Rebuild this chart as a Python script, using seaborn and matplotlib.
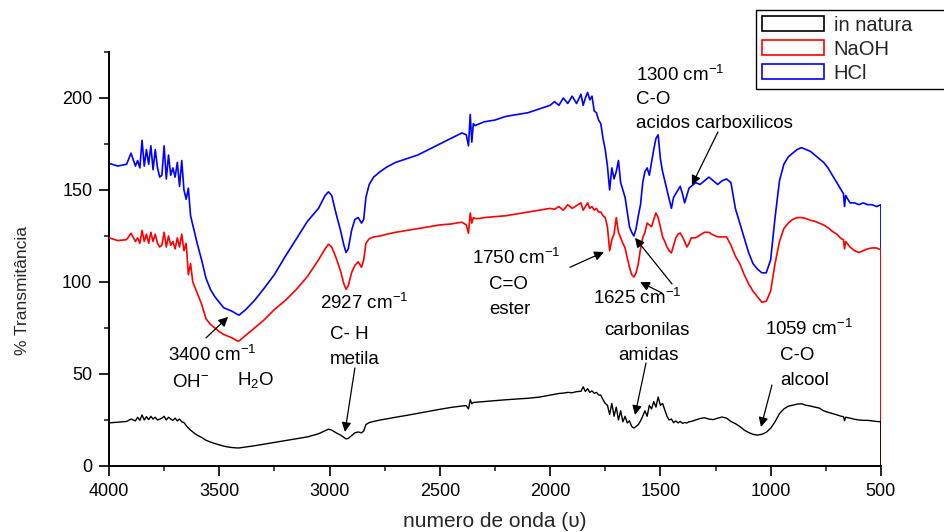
import numpy as np
import matplotlib
matplotlib.use("Agg")
from matplotlib import pyplot as plt
from matplotlib.patches import Patch
from matplotlib.ticker import MultipleLocator
import seaborn as sns

# wavenumber grid (cm-1) shared by the three spectra
wavenumber = [
    4000, 3960, 3920, 3900, 3880, 3870, 3860, 3850, 3840, 3830,
    3820, 3810, 3800, 3790, 3780, 3770, 3760, 3750, 3740, 3730,
    3720, 3710, 3700, 3690, 3680, 3670, 3660, 3650, 3640, 3630,
    3620, 3610, 3600, 3580, 3560, 3540, 3520, 3500, 3480, 3460,
    3440, 3420, 3410, 3380, 3340, 3300, 3250, 3200, 3150, 3100,
    3050, 3020, 3005, 2990, 2970, 2950, 2935, 2925, 2915, 2900,
    2885, 2870, 2855, 2845, 2835, 2820, 2800, 2770, 2740, 2700,
    2650, 2600, 2550, 2500, 2450, 2400, 2380, 2370, 2362, 2355,
    2348, 2340, 2320, 2300, 2250, 2200, 2150, 2100, 2050, 2000,
    1980, 1960, 1940, 1920, 1900, 1880, 1860, 1850, 1840, 1830,
    1820, 1810, 1800, 1790, 1780, 1770, 1760, 1750, 1740, 1730,
    1720, 1710, 1700, 1690, 1680, 1670, 1660, 1650, 1640, 1630,
    1620, 1610, 1600, 1590, 1580, 1570, 1560, 1550, 1540, 1530,
    1520, 1510, 1500, 1490, 1480, 1470, 1460, 1450, 1440, 1430,
    1420, 1410, 1400, 1390, 1380, 1370, 1360, 1340, 1320, 1300,
    1280, 1260, 1240, 1220, 1200, 1180, 1160, 1140, 1120, 1100,
    1080, 1060, 1040, 1020, 1000, 980, 960, 940, 920, 900,
    880, 860, 840, 820, 800, 780, 760, 740, 720, 700,
    680, 670, 665, 660, 640, 620, 600, 580, 560, 540,
    520, 500, 500,
]

in_natura = [
    23.4, 23.8, 24.2, 25.5, 24.5, 26.5, 24.8, 27.7, 25, 26.8,
    25.2, 27, 25.5, 26.5, 25, 25.4, 26, 27, 25, 26.5,
    25.5, 24.8, 26, 24.5, 25.5, 24, 23.6, 22, 20.6, 19.5,
    18.5, 17.5, 16.8, 15.5, 14, 13, 12.2, 11.5, 10.8, 10.3,
    10, 9.8, 9.8, 10.3, 11, 11.8, 12.8, 13.8, 14.8, 15.8,
    17.5, 19.2, 20, 19.5, 18, 16.8, 15.5, 14.7, 15, 16.5,
    18, 18.5, 18, 19, 22.5, 23.6, 24.2, 25, 25.6, 26.5,
    27.5, 28.6, 29.7, 30.8, 31.8, 32.6, 32.8, 31, 36, 33.8,
    34.5, 34.6, 34.8, 35, 35.5, 36, 36.4, 36.8, 37.4, 38.5,
    39, 39.4, 39.6, 40, 39.8, 40.4, 40.6, 43, 40.5, 42,
    40, 40.8, 39.5, 40, 38.6, 38.5, 36, 34, 33, 28,
    34, 27, 32, 25, 30, 24, 27, 23.4, 24.5, 21.5,
    20.6, 21.5, 22.5, 24.5, 27, 30, 27, 33, 31, 35,
    32, 37.5, 33, 34, 30.5, 27, 25, 25.5, 23.5, 24.5,
    23.4, 24.2, 23.2, 23.6, 23.4, 24, 24.2, 25, 25.8, 26.2,
    25.5, 25.2, 26, 26.6, 26, 24.2, 23, 21.5, 19.5, 18.2,
    17.2, 16.8, 17.2, 18.3, 20.5, 24, 28.5, 31, 32.5, 33,
    33.6, 33.8, 33, 32.6, 32, 31.5, 30, 29.2, 28.5, 27.8,
    27, 26.8, 24.6, 26.5, 26, 25.4, 25, 24.8, 24.8, 24.5,
    24.2, 24, 0,
]

naoh = [
    124, 122.5, 123, 126.5, 122, 124, 121, 128, 122, 126,
    121, 127, 122, 126, 121, 119, 120, 127, 119, 125,
    120, 122, 118, 124, 119, 126, 117, 121, 104, 110,
    100, 97, 94, 88, 80, 77, 75, 73, 71.5, 70.5,
    69.5, 68, 68, 71, 75, 79, 85, 90, 96, 103,
    112, 118, 120.5, 119, 113, 106, 99, 96, 98, 105,
    109, 111, 108, 112, 121, 123.5, 124.5, 125, 126, 127,
    128, 129, 130, 131, 131.5, 132.5, 131, 126.5, 137.5, 132,
    135, 134.5, 134.5, 135, 135.5, 136, 137, 138, 139, 140,
    139.5, 141, 139, 142, 140, 141.5, 143, 139, 141, 143,
    140, 141, 139, 140, 138, 138, 136, 135, 130, 117,
    123, 126, 135, 127, 124, 121, 118.5, 113, 108, 104,
    102.7, 105, 110, 118, 124, 127, 132, 131, 130, 134,
    137.5, 135, 130, 124.5, 122, 119, 117, 115.8, 120, 124,
    126, 126.6, 124.5, 122, 119, 121, 124, 124, 125.5, 127,
    127, 125.5, 124.5, 124.5, 124.5, 120, 114, 110, 104, 99,
    95, 92, 89, 89.5, 95, 110, 122, 129, 132, 134,
    135, 135, 134.5, 133.5, 133, 132, 131, 129.5, 127.5, 126,
    123.5, 123, 118, 122, 119, 117, 116, 117, 118, 118.5,
    118.5, 117.5, 0,
]

hcl = [
    164.5, 163, 164, 170, 163, 166, 162, 177, 163, 172,
    164, 174, 161, 172, 162, 157, 158, 174, 156, 169,
    158, 162, 157, 165, 152, 166, 150, 145, 151, 136,
    131, 126, 121, 112, 102, 96, 92, 89, 86, 85,
    84, 82.5, 82, 85, 90, 96, 104, 114, 123.5, 133,
    140, 147, 149, 147, 137, 128, 120, 116, 118, 128,
    134, 135, 132, 134, 146, 153, 157, 160, 162.5, 165,
    167, 169, 172, 175, 178, 181, 180, 174, 191, 176,
    186, 185, 186, 187, 188, 190, 191, 192, 194, 196,
    198, 196, 200, 197, 201, 197, 202, 196, 200, 203,
    199, 201, 193, 192, 188, 186, 178, 172, 163, 150,
    162, 156, 160, 166, 154, 150, 146, 138, 130, 127,
    125, 129, 136, 142, 154, 160, 162, 158, 165, 172,
    178, 180, 167, 160, 155, 150, 145, 140, 146, 148,
    150, 152, 148, 143, 147, 151, 152, 154, 153, 155,
    157, 155, 153, 155, 156, 154, 140, 132, 124, 116,
    110, 107, 105, 105, 112, 135, 155, 164, 168, 170,
    172, 173, 172, 171, 169, 167, 165, 162, 158, 154,
    150, 148, 141, 147, 143, 143, 142, 143, 142, 142,
    141, 142, 0,
]

series_names = ["in natura", "NaOH", "HCl"]
series_colors = ["black", "red", "blue"]

sns.set_style("ticks")
plt.rcParams["font.family"] = ["Liberation Sans", "DejaVu Sans"]
plt.rcParams["mathtext.default"] = "regular"

fig = plt.figure(figsize=(9.45, 5.32), dpi=100)
ax = fig.add_axes([0.1153, 0.1241, 0.8169, 0.7782])

# HCl first, in natura on top (as in the original render order)
sns.lineplot(x=wavenumber, y=hcl, color="blue", lw=1.2, sort=False,
             estimator=None, ax=ax, zorder=2)
sns.lineplot(x=wavenumber, y=naoh, color="red", lw=1.2, sort=False,
             estimator=None, ax=ax, zorder=3)
sns.lineplot(x=wavenumber, y=in_natura, color="black", lw=1.0, sort=False,
             estimator=None, ax=ax, zorder=4)

ax.set_xlim(4000, 500)
ax.set_ylim(0, 225)
ax.xaxis.set_major_locator(MultipleLocator(500))
ax.xaxis.set_minor_locator(MultipleLocator(250))
ax.yaxis.set_major_locator(MultipleLocator(50))
ax.yaxis.set_minor_locator(MultipleLocator(25))
ax.set_yticks([0, 50, 100, 150, 200])
ax.tick_params(which="major", direction="out", length=7, width=1.2,
               labelsize=13, pad=5, colors="black")
ax.tick_params(which="minor", direction="out", length=3.5, width=1.2)
sns.despine(ax=ax)
for side in ["left", "bottom"]:
    ax.spines[side].set_linewidth(1.4)
    ax.spines[side].set_color("black")

ax.set_xlabel("numero de onda (\u03c5)", fontsize=15)
ax.set_ylabel("% Transmit\u00e2ncia", fontsize=12.5)
ax.xaxis.set_label_coords(0.5, -0.11)
ax.yaxis.set_label_coords(-0.102, 0.425)

fs = 13.5
notes = [
    (1611, 212.5, "1300 cm$^{-1}$"),
    (1611, 199, "C-O"),
    (1611, 186, "acidos carboxilicos"),
    (2354, 113, "1750 cm$^{-1}$"),
    (2277, 98.4, "C=O"),
    (2277, 84.8, "ester"),
    (1806, 91.3, "1625 cm$^{-1}$"),
    (3043, 88.6, "2927 cm$^{-1}$"),
    (2998, 71.2, "C- H"),
    (2998, 57.6, "metila"),
    (3732, 60.3, "3400 cm$^{-1}$"),
    (3714, 45.6, "OH$^{-}$"),
    (3420, 46.7, "H$_2$O"),
    (1756, 73.4, "carbonilas"),
    (1692, 59.8, "amidas"),
    (1026, 74.5, "1059 cm$^{-1}$"),
    (958, 59.8, "C-O"),
    (958, 46.2, "alcool"),
]
for x, y, s in notes:
    ax.text(x, y, s, fontsize=fs, ha="left", va="center", color="black",
            zorder=5)

arrows = [
    ((1357, 152.7), (1239, 181.5)),
    ((1756, 116.3), (1910, 108)),
    ((1592, 100), (1493, 94)),
    ((1615, 124), (1447, 98.9)),
    ((2930, 18.5), (2885, 53.3)),
    ((3460, 81), (3560, 69.6)),
    ((1615, 27.7), (1565, 56)),
    ((1044, 21.2), (994, 44)),
]
for head, tail in arrows:
    ax.annotate("", xy=head, xytext=tail,
                arrowprops=dict(arrowstyle="-|>", color="black", lw=0.9,
                                mutation_scale=14, shrinkA=0, shrinkB=0),
                zorder=6)

handles = [Patch(facecolor="white", edgecolor=c, linewidth=1.2, label=n)
           for n, c in zip(series_names, series_colors)]
leg = fig.legend(handles=handles, loc="upper left",
                 bbox_to_anchor=(0.8, 0.84, 0.21, 0.142), mode="expand",
                 fontsize=14.5, frameon=True, fancybox=False, framealpha=1,
                 edgecolor="black", handlelength=3.1, handleheight=0.75,
                 borderpad=0.3, labelspacing=0.25, handletextpad=0.45,
                 borderaxespad=0)
leg.get_frame().set_linewidth(1.0)

fig.savefig("out.png", dpi=100)
